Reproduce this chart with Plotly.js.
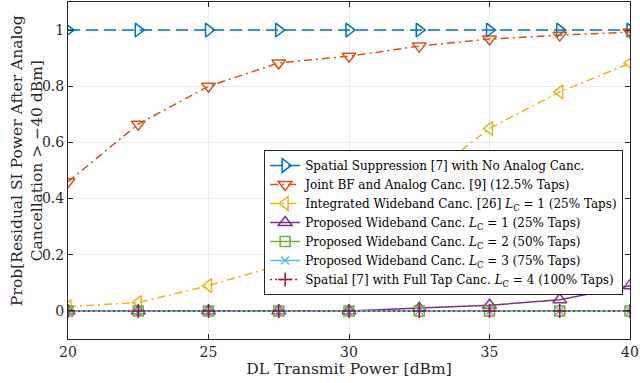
<!DOCTYPE html>
<html>
<head>
<meta charset="utf-8">
<script src="https://cdn.plot.ly/plotly-3.0.1.min.js"></script>
<style>
  body { margin: 0; background: #fff; }
  #chart { width: 640px; height: 383px; }
</style>
</head>
<body>
<div id="chart"></div>
<script>
// DL transmit power [dBm]
var power = [20, 22.5, 25, 27.5, 30, 32.5, 35, 37.5, 40];

var spatialNoAnalog = [1, 1, 1, 1, 1, 1, 1, 1, 1];
var jointBF = [0.46, 0.665, 0.80, 0.883, 0.907, 0.943, 0.968, 0.982, 0.993];
var integratedWB = [0.015, 0.03, 0.09, 0.162, 0.30, 0.455, 0.65, 0.78, 0.882];
var proposedL1 = [0, 0, 0, 0, 0, 0.01, 0.02, 0.04, 0.09];
var proposedL2 = [0, 0, 0, 0, 0, 0, 0, 0, 0];
var proposedL3 = [0, 0, 0, 0, 0, 0, 0, 0, 0];
var spatialFull = [0, 0, 0, 0, 0, 0, 0, 0, 0];

var names = [
  'Spatial Suppression [7] with No Analog Canc.',
  'Joint BF and Analog Canc. [9] (12.5% Taps)',
  'Integrated Wideband Canc. [26] <i>L</i><sub>C</sub> = 1 (25% Taps)',
  'Proposed Wideband Canc. <i>L</i><sub>C</sub> = 1 (25% Taps)',
  'Proposed Wideband Canc. <i>L</i><sub>C</sub> = 2 (50% Taps)',
  'Proposed Wideband Canc. <i>L</i><sub>C</sub> = 3 (75% Taps)',
  'Spatial [7] with Full Tap Canc. <i>L</i><sub>C</sub> = 4 (100% Taps)'
];

var yTitle = 'Prob[Residual SI Power After Analog<br>Cancellation > \u221240 dBm]';

function series(y, name, color, dash, symbol, size) {
  return {
    x: power,
    y: y,
    name: name,
    type: 'scatter',
    mode: 'lines+markers',
    line: {color: color, width: 1.5, dash: dash},
    marker: {symbol: symbol, size: size, color: color, line: {color: color, width: 1.5}}
  };
}

var data = [
  series(spatialNoAnalog, names[0], '#0072BD', '12px,6px', 'triangle-right-open', 12),
  series(jointBF, names[1], '#D95319', '8px,4px,2px,4px', 'triangle-down-open', 12),
  series(integratedWB, names[2], '#EDB120', '8px,4px,2px,4px', 'triangle-left-open', 12),
  series(proposedL1, names[3], '#7E2F8E', 'solid', 'triangle-up-open', 12),
  series(proposedL2, names[4], '#77AC30', 'solid', 'square-open', 10),
  series(proposedL3, names[5], '#4DBEEE', 'solid', 'x-thin-open', 8),
  series(spatialFull, names[6], '#A2142F', '2px,3px', 'cross-thin-open', 10)
];

var font = {family: 'DejaVu Serif, serif', size: 13, color: '#262626'};

var layout = {
  width: 640,
  height: 383,
  margin: {l: 68, r: 10, t: 2, b: 44},
  paper_bgcolor: '#fff',
  plot_bgcolor: '#fff',
  font: font,
  showlegend: true,
  xaxis: {
    range: [20, 40],
    tickvals: [20, 25, 30, 35, 40],
    ticks: 'inside',
    ticklen: 5,
    tickcolor: '#262626',
    showline: true,
    mirror: 'ticks',
    linecolor: '#262626',
    linewidth: 1,
    showgrid: true,
    gridcolor: '#ebebeb',
    zeroline: false,
    tickfont: {size: 14},
    title: {text: 'DL Transmit Power [dBm]', font: {size: 15.5}, standoff: 2}
  },
  yaxis: {
    range: [-0.1, 1.1],
    tickvals: [0, 0.2, 0.4, 0.6, 0.8, 1],
    ticktext: ['0', '0.2', '0.4', '0.6', '0.8', '1'],
    ticks: 'inside',
    ticklen: 5,
    tickcolor: '#262626',
    showline: true,
    mirror: 'ticks',
    linecolor: '#262626',
    linewidth: 1,
    showgrid: true,
    gridcolor: '#ebebeb',
    zeroline: false,
    tickfont: {size: 14}
  },
  annotations: [{
    text: yTitle,
    xref: 'paper',
    yref: 'paper',
    x: -0.072,
    y: 0.53,
    xanchor: 'center',
    yanchor: 'middle',
    textangle: -90,
    showarrow: false,
    font: {family: font.family, size: 15.5, color: '#262626'}
  }],
  legend: {
    x: 0.349,
    y: 0.561,
    xanchor: 'left',
    yanchor: 'top',
    bgcolor: '#fff',
    bordercolor: '#262626',
    borderwidth: 1,
    font: {family: font.family, size: 12, color: '#000'},
    itemwidth: 30,
    tracegroupgap: 0
  }
};

Plotly.newPlot('chart', data, layout, {displayModeBar: false, staticPlot: true});
</script>
</body>
</html>
